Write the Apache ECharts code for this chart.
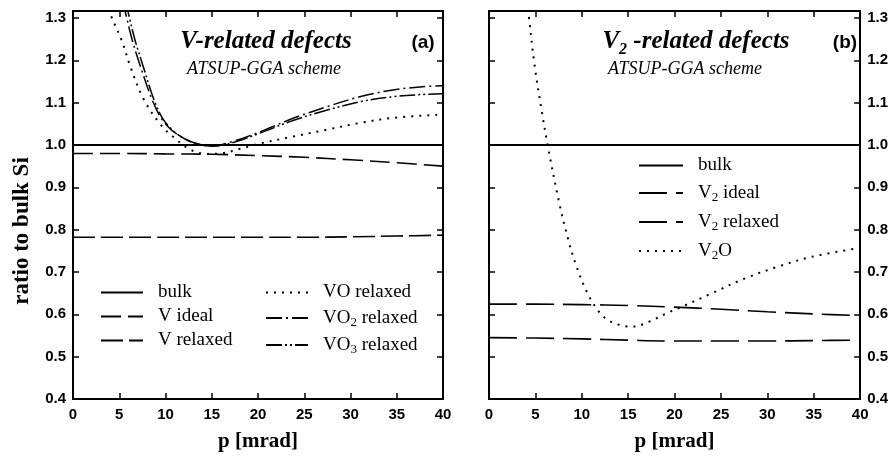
<!DOCTYPE html>
<html>
<head>
<meta charset="utf-8">
<script src="https://cdn.jsdelivr.net/npm/echarts@6/dist/echarts.min.js"></script>
<style>
html,body{margin:0;padding:0;background:#fff;}
#c{width:891px;height:462px;}
</style>
</head>
<body>
<div id="c"></div>
<script>
// ---------- data ----------
var xTicks = [0, 5, 10, 15, 20, 25, 30, 35, 40];
var yTicks = [0.4, 0.5, 0.6, 0.7, 0.8, 0.9, 1.0, 1.1, 1.2, 1.3];

// panel (a): V-related defects
var bulkA = [[0, 1.0], [40, 1.0]];
var vIdeal = [[0, 0.980], [5, 0.980], [10, 0.979], [15, 0.978], [20, 0.975], [25, 0.971], [30, 0.965], [35, 0.958], [40, 0.950]];
var vRelaxed = [[0, 0.782], [10, 0.782], [20, 0.782], [25, 0.782], [30, 0.783], [35, 0.785], [40, 0.787]];
var voRelaxed = [[3.6, 1.34], [4.0, 1.311], [5.3, 1.245], [6.2, 1.185], [7.6, 1.110], [9.4, 1.050], [10.9, 1.018], [12.7, 0.989], [14.5, 0.979], [15.9, 0.980], [18.1, 0.991], [19.9, 1.002], [23.8, 1.020], [27.4, 1.036], [31.0, 1.052], [34.6, 1.064], [40, 1.072]];
var vo2Relaxed = [[5.4, 1.34], [5.7, 1.31], [6.4, 1.248], [7.3, 1.185], [8.5, 1.110], [9.4, 1.068], [10.2, 1.045], [11.2, 1.026], [13.0, 1.006], [15.2, 0.998], [17.5, 1.010], [20.2, 1.031], [23.8, 1.063], [27.4, 1.090], [31.0, 1.114], [34.6, 1.130], [37.5, 1.137], [40, 1.140]];
var vo3Relaxed = [[5.7, 1.34], [6.0, 1.31], [6.7, 1.248], [7.6, 1.185], [8.7, 1.110], [9.6, 1.066], [10.4, 1.043], [11.3, 1.025], [13.0, 1.005], [15.2, 0.997], [17.5, 1.007], [20.2, 1.028], [23.8, 1.058], [27.4, 1.082], [31.0, 1.102], [34.6, 1.114], [37.5, 1.119], [40, 1.121]];

// panel (b): V2-related defects
var bulkB = [[0, 1.0], [40, 1.0]];
var v2Ideal = [[0, 0.624], [5, 0.624], [10, 0.623], [15, 0.621], [20, 0.617], [25, 0.612], [30, 0.606], [35, 0.601], [40, 0.597]];
var v2Relaxed = [[0, 0.545], [5, 0.544], [10, 0.542], [15, 0.539], [20, 0.537], [25, 0.537], [30, 0.537], [35, 0.538], [40, 0.539]];
var v2O = [[4.1, 1.34], [4.3, 1.303], [4.9, 1.19], [5.65, 1.085], [6.36, 0.995], [7.6, 0.86], [8.5, 0.78], [9.4, 0.715], [10.5, 0.655], [11.55, 0.615], [12.6, 0.59], [14.05, 0.575], [15.5, 0.571], [17.3, 0.583], [19.1, 0.602], [20.8, 0.618], [24.05, 0.650], [27.6, 0.685], [31.2, 0.713], [34.8, 0.736], [40, 0.757]];

var legendLabels = {
  'bulkA': '{t|bulk}',
  'vIdeal': '{t|V ideal}',
  'vRelaxed': '{t|V relaxed}',
  'voRelaxed': '{t|VO relaxed}',
  'vo2Relaxed': '{t|VO}{s|2}{t| relaxed}',
  'vo3Relaxed': '{t|VO}{s|3}{t| relaxed}',
  'bulkB': '{t|bulk}',
  'v2Ideal': '{t|V}{s|2}{t| ideal}',
  'v2Relaxed': '{t|V}{s|2}{t| relaxed}',
  'v2O': '{t|V}{s|2}{t|O}'
};

// ---------- chart ----------
var SERIF = '"Liberation Serif", "Times New Roman", serif';
var SANS = '"Liberation Sans", Arial, sans-serif';
var YMAX = 1.3165;

function tickFmtY(v) {
  if (Math.abs(v * 10 - Math.round(v * 10)) > 1e-6) return '';
  return v.toFixed(1);
}

function xAxisDef(grid, pos, labels) {
  return {
    gridIndex: grid, type: 'value', position: pos, min: 0, max: 40, interval: 5,
    axisLine: {show: true, onZero: false, lineStyle: {color: '#000', width: 2}},
    axisTick: {show: true, inside: true, length: 6, lineStyle: {color: '#000', width: 1.5}},
    axisLabel: {show: labels, color: '#000', fontFamily: SANS, fontWeight: 'bold', fontSize: 15, margin: 8},
    splitLine: {show: false},
    name: labels ? 'p [mrad]' : '', nameLocation: 'middle', nameGap: 32,
    nameTextStyle: {color: '#000', fontFamily: SERIF, fontWeight: 'bold', fontSize: 21}
  };
}
function yAxisDef(grid, pos, labels) {
  return {
    gridIndex: grid, type: 'value', position: pos, min: 0.4, max: YMAX, interval: 0.1,
    axisLine: {show: true, onZero: false, lineStyle: {color: '#000', width: 2}},
    axisTick: {show: true, inside: true, length: 6, lineStyle: {color: '#000', width: 1.5}},
    axisLabel: {show: labels, color: '#000', fontFamily: SANS, fontWeight: 'bold', fontSize: 15, margin: 7, formatter: tickFmtY, showMaxLabel: false},
    splitLine: {show: false}
  };
}
function lineSeries(name, data, xi, yi, type, width) {
  return {
    name: name, type: 'line', data: data, xAxisIndex: xi, yAxisIndex: yi,
    smooth: 0.35, symbol: 'none', showSymbol: false, clip: true, silent: true,
    lineStyle: {color: '#000', width: width, type: type, cap: 'butt'},
    itemStyle: {color: '#000'}
  };
}

var richStyles = {
  t: {fontFamily: SERIF, fontSize: 19, color: '#000', lineHeight: 22},
  s: {fontFamily: SERIF, fontSize: 13, color: '#000', padding: [9, 0, 0, 0], lineHeight: 13}
};
function legendDef(left, top, names, gap, w) {
  return {
    orient: 'vertical', left: left, top: top, data: names, padding: 0,
    itemWidth: w, itemHeight: 14, itemGap: gap, selectedMode: false,
    itemStyle: {opacity: 0, borderWidth: 0},
    formatter: function (n) { return legendLabels[n]; },
    textStyle: {color: '#000', fontFamily: SERIF, fontSize: 19, padding: [0, 0, 0, 10], rich: richStyles}
  };
}

var chart = echarts.init(document.getElementById('c'), null, {renderer: 'canvas'});
chart.setOption({
  animation: false,
  backgroundColor: '#fff',
  grid: [
    {left: 73, top: 11, width: 370, height: 388},
    {left: 489, top: 11, width: 373, height: 388}
  ],
  xAxis: [xAxisDef(0, 'bottom', true), xAxisDef(0, 'top', false), xAxisDef(1, 'bottom', true), xAxisDef(1, 'top', false)],
  yAxis: [yAxisDef(0, 'left', true), yAxisDef(0, 'right', false), yAxisDef(1, 'left', false), yAxisDef(1, 'right', true)],
  legend: [
    legendDef(100, 283, ['bulkA', 'vIdeal', 'vRelaxed'], 5, 42),
    legendDef(265, 283, ['voRelaxed', 'vo2Relaxed', 'vo3Relaxed'], 5, 42),
    legendDef(638, 156, ['bulkB', 'v2Ideal', 'v2Relaxed', 'v2O'], 7, 44)
  ],
  series: [
    lineSeries('bulkA', bulkA, 0, 0, 'solid', 2),
    lineSeries('vIdeal', vIdeal, 0, 0, [20, 7], 1.6),
    lineSeries('vRelaxed', vRelaxed, 0, 0, [22, 6], 1.6),
    lineSeries('voRelaxed', voRelaxed, 0, 0, [2, 6], 2),
    lineSeries('vo2Relaxed', vo2Relaxed, 0, 0, [16, 4, 2, 4], 1.5),
    lineSeries('vo3Relaxed', vo3Relaxed, 0, 0, [16, 3, 2, 3, 2, 3], 1.5),
    lineSeries('bulkB', bulkB, 2, 2, 'solid', 2),
    lineSeries('v2Ideal', v2Ideal, 2, 2, [28, 9], 1.6),
    lineSeries('v2Relaxed', v2Relaxed, 2, 2, [28, 9], 1.6),
    lineSeries('v2O', v2O, 2, 2, [2, 6], 2)
  ],
  graphic: [
    {type: 'text', x: 22, y: 231, rotation: Math.PI / 2,
     style: {text: 'ratio to bulk Si', fill: '#000', font: 'bold 23px ' + SERIF, align: 'center', verticalAlign: 'middle'}},
    {type: 'text', x: 266, y: 42,
     style: {text: 'V-related defects', fill: '#000', font: 'italic bold 25px ' + SERIF, align: 'center', verticalAlign: 'middle'}},
    {type: 'text', x: 264, y: 69,
     style: {text: 'ATSUP-GGA scheme', fill: '#000', font: 'italic 18px ' + SERIF, align: 'center', verticalAlign: 'middle'}},
    {type: 'text', x: 423, y: 43,
     style: {text: '(a)', fill: '#000', font: 'bold 19px ' + SANS, align: 'center', verticalAlign: 'middle'}},
    {type: 'text', x: 696, y: 42,
     style: {text: '{t|V}{s|2}{t| -related defects}', fill: '#000', align: 'center', verticalAlign: 'middle',
       rich: {
         t: {fontFamily: SERIF, fontStyle: 'italic', fontWeight: 'bold', fontSize: 25, fill: '#000', lineHeight: 28},
         s: {fontFamily: SERIF, fontStyle: 'italic', fontWeight: 'bold', fontSize: 16, fill: '#000', padding: [16, 0, 0, 0], lineHeight: 16}
       }}},
    {type: 'text', x: 685, y: 69,
     style: {text: 'ATSUP-GGA scheme', fill: '#000', font: 'italic 18px ' + SERIF, align: 'center', verticalAlign: 'middle'}},
    {type: 'text', x: 845, y: 43,
     style: {text: '(b)', fill: '#000', font: 'bold 19px ' + SANS, align: 'center', verticalAlign: 'middle'}}
  ]
});
</script>
</body>
</html>
